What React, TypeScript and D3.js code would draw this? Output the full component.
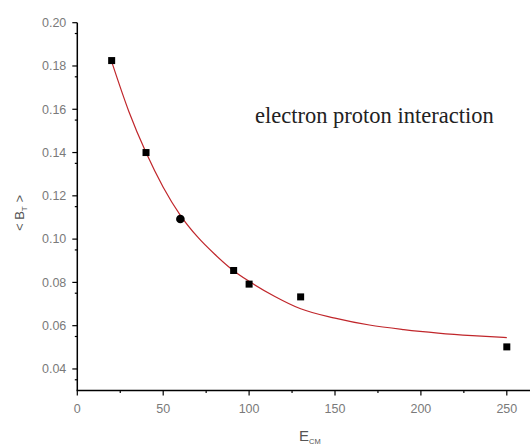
import React from 'react';
import * as d3 from 'd3';

// measured points (E_CM, <B_T>)
const pointX = [20, 40, 91, 100, 130, 250];
const pointY = [0.1825, 0.1400, 0.0855, 0.0792, 0.0733, 0.0502];
// the single round marker
const circleX = [60];
const circleY = [0.1093];

// fitted curve
const fitX = [20, 30, 40, 50, 60, 70, 80, 90, 100, 115, 130, 150, 170, 190, 210, 230, 250];
const fitY = [0.182, 0.159, 0.140, 0.124, 0.111, 0.101, 0.093, 0.086, 0.0805, 0.0735, 0.0678, 0.0635, 0.0603, 0.0582, 0.0566, 0.0554, 0.0545];

const xTicks = [0, 50, 100, 150, 200, 250];
const yTicks = [0.04, 0.06, 0.08, 0.1, 0.12, 0.14, 0.16, 0.18, 0.2];

const W = 530;
const H = 447;

export default function App() {
  const x = d3.scaleLinear().domain([0, 263.5]).range([77.3, 530]);
  const y = d3.scaleLinear().domain([0.03, 0.2]).range([390.6, 22.7]);

  const line = d3.line<number>()
    .x((d, i) => x(fitX[i]))
    .y(d => y(d))
    .curve(d3.curveMonotoneX);

  const minorX = d3.range(25, 263, 50);
  const minorY = d3.range(0.035, 0.2, 0.02).map(v => +v.toFixed(3));

  const x0 = x(0);
  const yBase = y(0.03);
  const sans = "Arial, 'Liberation Sans', sans-serif";

  return (
    <svg width={W} height={H} style={{ position: 'absolute', left: 0, top: 0 }}>
      <rect width={W} height={H} fill="#fff" />

      {/* axes */}
      <line x1={x0} x2={x0} y1={y(0.2)} y2={yBase} stroke="#000" strokeWidth={1.5} />
      <line x1={x0 - 0.75} x2={530} y1={yBase} y2={yBase} stroke="#000" strokeWidth={1.5} />

      {yTicks.map(t => (
        <g key={'y' + t}>
          <line x1={x0 - 5} x2={x0} y1={y(t)} y2={y(t)} stroke="#000" strokeWidth={1.2} />
          <text x={x0 - 11} y={y(t)} dy="0.35em" textAnchor="end" fontFamily={sans}
            fontSize={12.5} fill="#7a7a7a">{t.toFixed(2)}</text>
        </g>
      ))}
      {minorY.map(t => (
        <line key={'my' + t} x1={x0 - 2.5} x2={x0} y1={y(t)} y2={y(t)} stroke="#000" strokeWidth={1.2} />
      ))}

      {xTicks.map(t => (
        <g key={'x' + t}>
          <line x1={x(t)} x2={x(t)} y1={yBase} y2={yBase + 5} stroke="#000" strokeWidth={1.2} />
          <text x={x(t)} y={yBase + 22} textAnchor="middle" fontFamily={sans}
            fontSize={12.5} fill="#7a7a7a">{t}</text>
        </g>
      ))}
      {minorX.map(t => (
        <line key={'mx' + t} x1={x(t)} x2={x(t)} y1={yBase} y2={yBase + 2.5} stroke="#000" strokeWidth={1.2} />
      ))}

      {/* fit curve */}
      <path d={line(fitY) || ''} fill="none" stroke="#c0262b" strokeWidth={1.2} />

      {/* markers */}
      {pointX.map((v, i) => (
        <rect key={'p' + i} x={x(v) - 3.5} y={y(pointY[i]) - 3.5} width={7} height={7} fill="#000" />
      ))}
      {circleX.map((v, i) => (
        <circle key={'c' + i} cx={x(v)} cy={y(circleY[i])} r={4.3} fill="#000" />
      ))}

      {/* labels */}
      <text x={255} y={123} fontFamily="'Times New Roman', 'Liberation Serif', serif" fontSize={22.5} fill="#222">
        electron proton interaction
      </text>

      <text transform={`translate(24,${213}) rotate(-90)`} textAnchor="middle"
        fontFamily={sans} fontSize={13} fill="#555">
        {'< B'}<tspan fontSize={8} dy={3}>T</tspan><tspan dy={-3}>{' >'}</tspan>
      </text>

      <text x={299} y={441} fontFamily={sans} fontSize={15} fill="#555">
        E<tspan fontSize={7.5} dy={2.5}>CM</tspan>
      </text>
    </svg>
  );
}
